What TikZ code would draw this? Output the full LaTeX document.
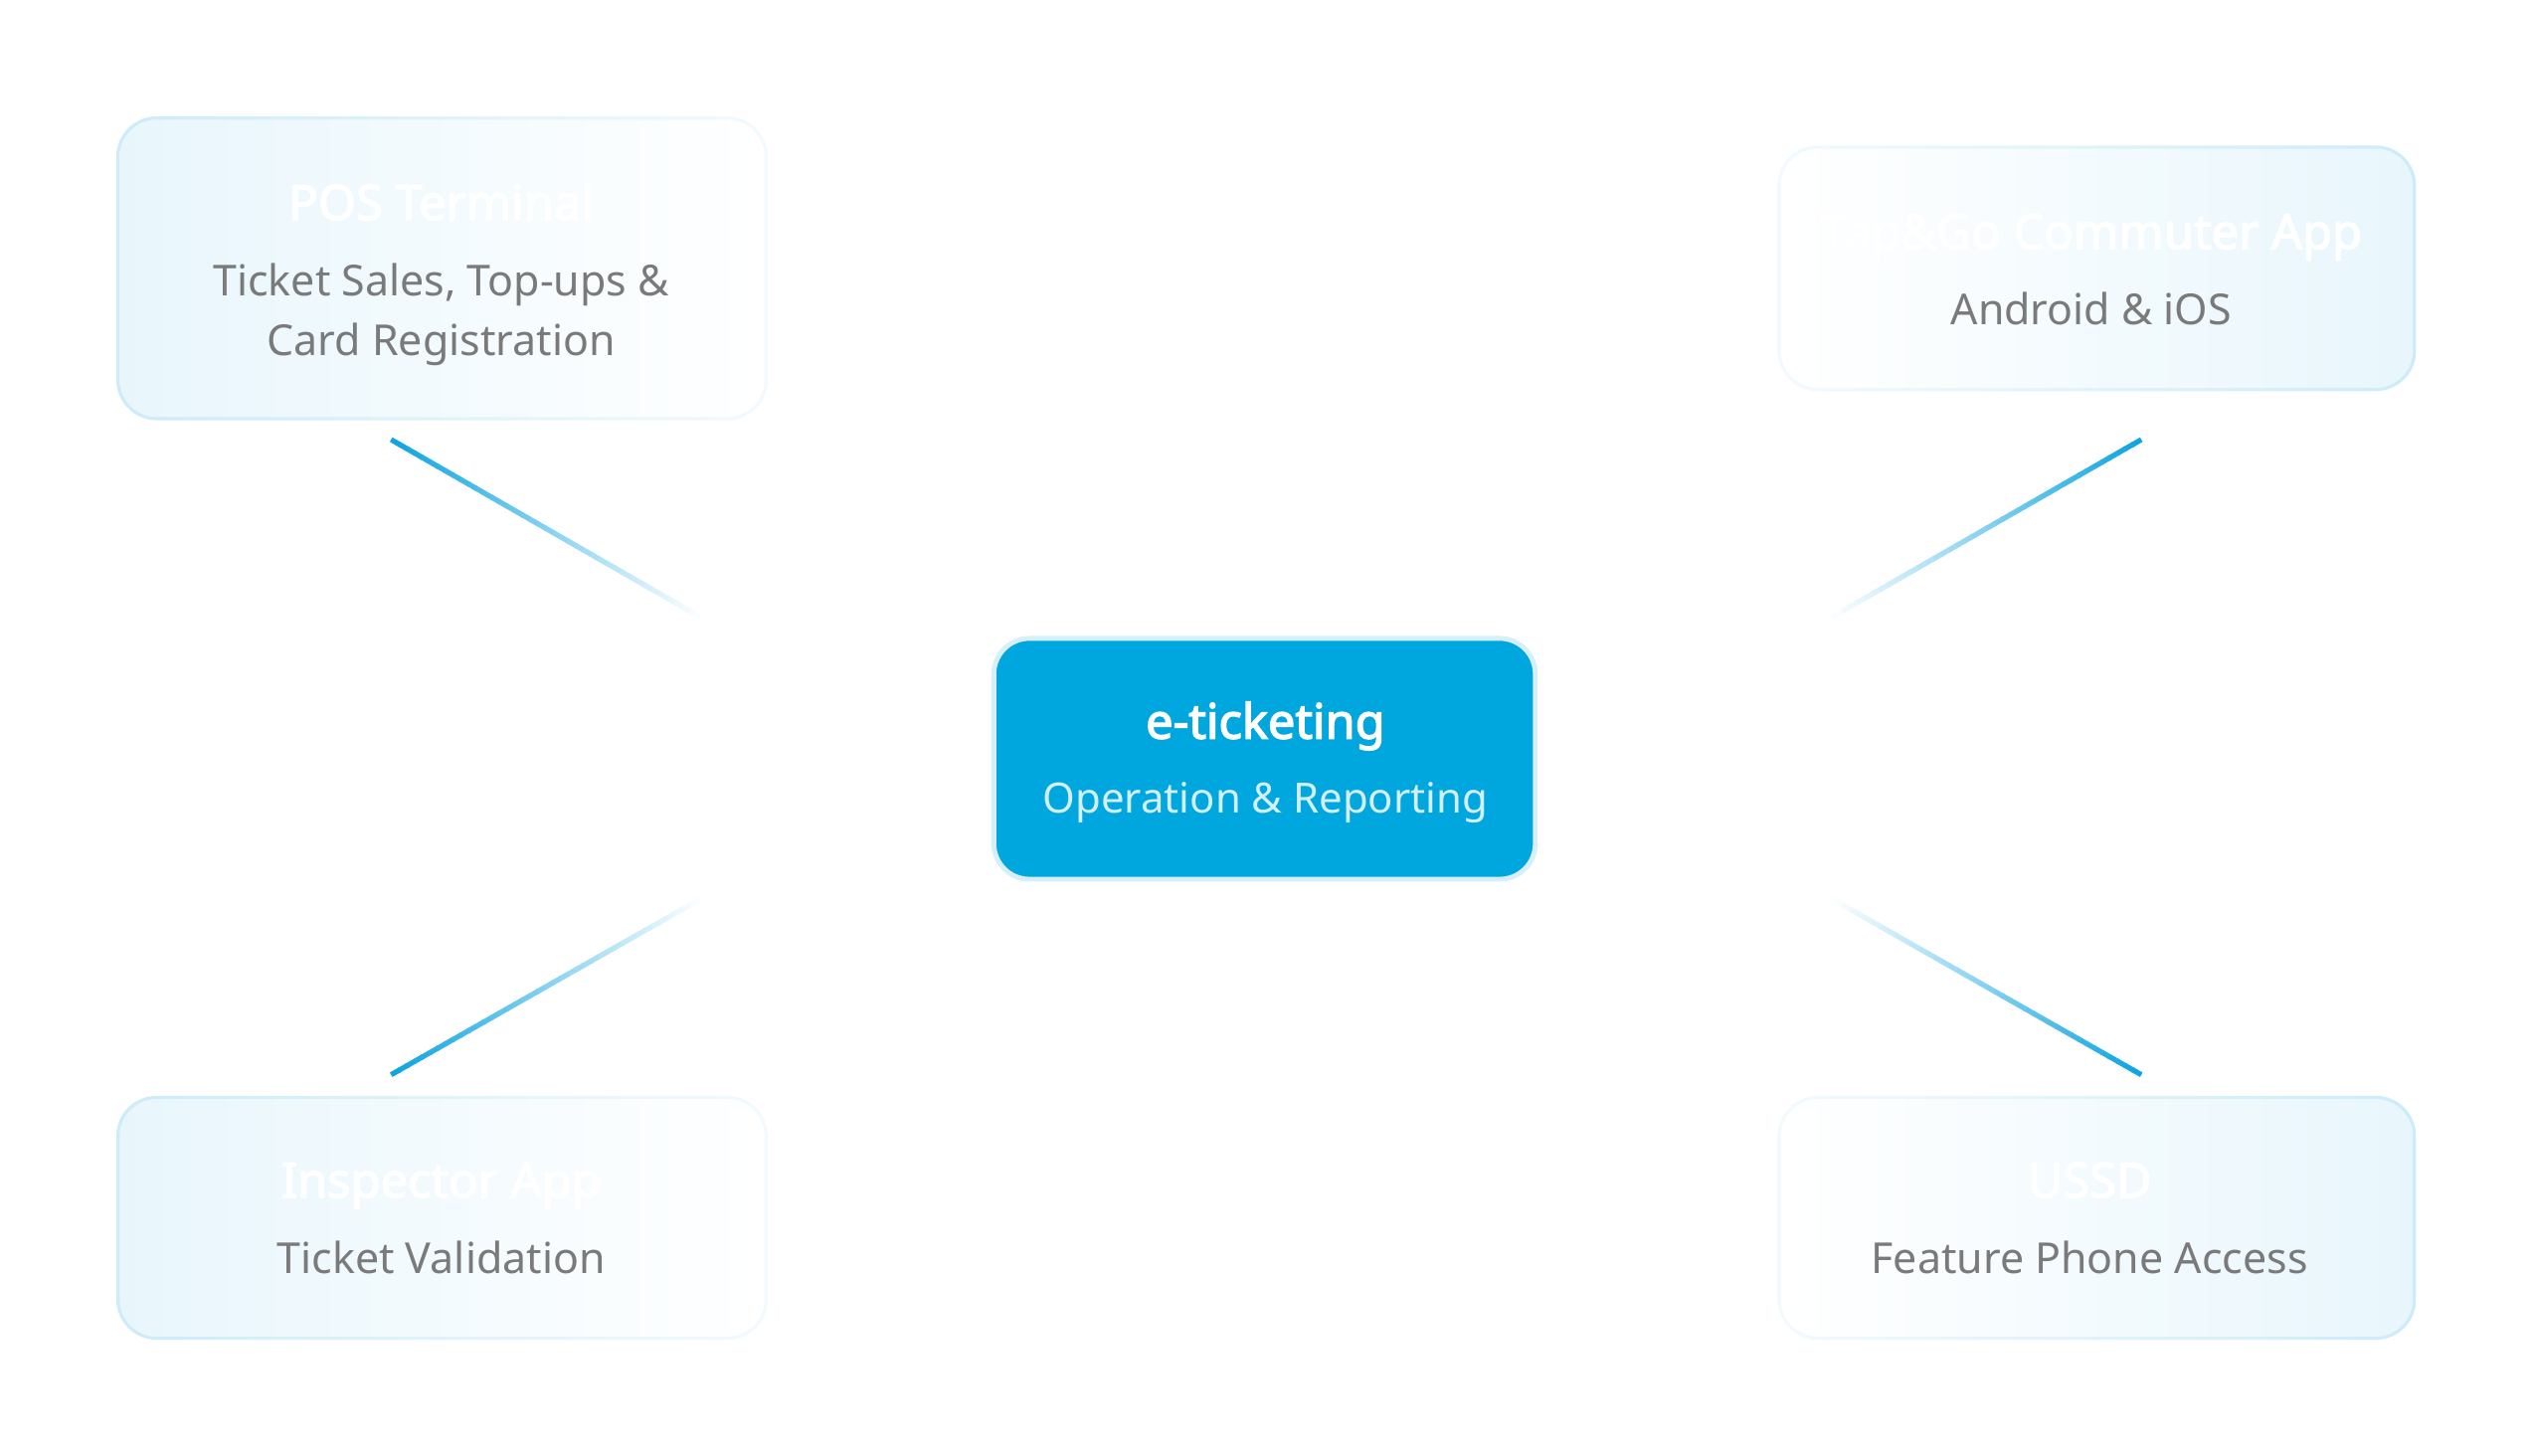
\documentclass[tikz,border=0pt]{standalone}
\usepackage{fontspec}
\setmainfont{Noto Sans}[AutoFakeBold=2.8]
\usetikzlibrary{calc}
\definecolor{hub}{RGB}{0,166,222}
\definecolor{hubedge}{RGB}{214,239,250}
\definecolor{hubsub}{RGB}{210,239,251}
\definecolor{tint}{RGB}{232,246,252}
\definecolor{edgeblue}{RGB}{205,235,248}
\definecolor{edgefade}{RGB}{242,250,254}
\definecolor{subgrey}{RGB}{122,122,122}
\definecolor{linkblue}{RGB}{14,165,225}
\tikzset{
  outerL/.style={rounded corners=12.5pt, left color=edgeblue, right color=edgefade, inner sep=0pt},
  innerL/.style={rounded corners=11.5pt, left color=tint, right color=white, inner sep=0pt},
  outerR/.style={rounded corners=12.5pt, left color=edgefade, right color=edgeblue, inner sep=0pt},
  innerR/.style={rounded corners=11.5pt, left color=white, right color=tint, inner sep=0pt},
  hubbox/.style={rounded corners=11pt, fill=hub, draw=hubedge, line width=1.5pt, inner sep=0pt},
  titletext/.style={anchor=base, text=white, font=\bfseries\fontsize{15}{18}\selectfont},
  subtext/.style={anchor=base, text=subgrey, font=\fontsize{13.2}{16}\selectfont},
  hubsubtext/.style={anchor=base, text=hubsub, font=\fontsize{12.9}{16}\selectfont},
}
\begin{document}
\begin{tikzpicture}[x=0.5pt,y=-0.5pt]
\useasboundingbox (0,0) rectangle (1565.5,900.3);
\fill[white] (0,0) rectangle (1565.5,900.3);

% connectors (fade towards the hub)
\coordinate (tlA) at (242,272); \coordinate (tlB) at (432,381);
\coordinate (trA) at (1325,272); \coordinate (trB) at (1135,381);
\coordinate (blA) at (242,665); \coordinate (blB) at (432,557);
\coordinate (brA) at (1325,665); \coordinate (brB) at (1135,557);
\foreach \a/\b in {tlA/tlB,trA/trB,blA/blB,brA/brB}{
  \foreach \i in {0,...,39}{
    \pgfmathsetmacro{\ta}{\i/40}
    \pgfmathsetmacro{\tb}{(\i+1.2)/40}
    \pgfmathsetmacro{\p}{100-\i*2.5}
    \draw[line width=1.6pt, draw=linkblue!\p!white] ($(\a)!\ta!(\b)$) -- ($(\a)!\tb!(\b)$);
  }
}

% top-left
\node[outerL, minimum width=201.5pt, minimum height=94pt] (posedge) at (273.5,166) {};
\node[innerL, minimum width=199.5pt, minimum height=92pt] (pos) at (273.5,166) {};
\node[titletext] (postitle) at (273,136) {POS Terminal};
\node[subtext] (possub1) at (273,183) {Ticket Sales, Top-ups \&};
\node[subtext] (possub2) at (273,220) {Card Registration};

% top-right
\node[outerR, minimum width=197.5pt, minimum height=76pt] (appedge) at (1297.5,166) {};
\node[innerR, minimum width=195.5pt, minimum height=74pt] (app) at (1297.5,166) {};
\node[titletext] (apptitle) at (1294,154) {Tap\&Go Commuter App};
\node[subtext] (appsub) at (1294,201) {Android \& iOS};

% bottom-left
\node[outerL, minimum width=201.5pt, minimum height=75.5pt] (inspedge) at (273.5,753.5) {};
\node[innerL, minimum width=199.5pt, minimum height=73.5pt] (insp) at (273.5,753.5) {};
\node[titletext] (insptitle) at (273,741) {Inspector App};
\node[subtext] (inspsub) at (273,788) {Ticket Validation};

% bottom-right
\node[outerR, minimum width=197.5pt, minimum height=75.5pt] (ussdedge) at (1297.5,753.5) {};
\node[innerR, minimum width=195.5pt, minimum height=73.5pt] (ussd) at (1297.5,753.5) {};
\node[titletext] (ussdtitle) at (1293,741) {USSD};
\node[subtext] (ussdsub) at (1293,788) {Feature Phone Access};

% hub
\node[hubbox, minimum width=167.5pt, minimum height=74.5pt] (hub) at (782.5,469.5) {};
\node[titletext] (hubtitle) at (783,457) {e-ticketing};
\node[hubsubtext] (hubsub) at (783,503) {Operation \& Reporting};
\end{tikzpicture}
\end{document}
